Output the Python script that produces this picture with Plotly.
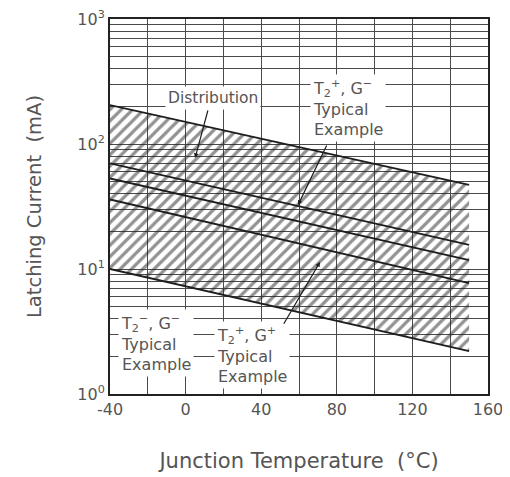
import plotly.graph_objects as go

# Data
temps = [-40, 150]
dist_upper = [205, 47]
dist_lower = [10, 2.2]
t2p_gm = [70, 15.6]   # T2+, G- typical
t2m_gm = [53, 11.8]   # T2-, G- typical
t2p_gp = [36, 7.7]    # T2+, G+ typical

x_ticks = [-40, 0, 40, 80, 120, 160]
y_tickvals = [1, 10, 100, 1000]
y_ticktext = ["10<sup>0</sup>", "10<sup>1</sup>", "10<sup>2</sup>", "10<sup>3</sup>"]

TXT = "#555555"
LINE = "#1e1e1e"
GRID = "#4a4a4a"
FONT = "DejaVu Sans, Arial, sans-serif"

fig = go.Figure()
fig.add_trace(go.Scatter(x=temps, y=dist_lower, mode="lines",
                         line=dict(color=LINE, width=1.8), showlegend=False))
fig.add_trace(go.Scatter(x=temps, y=dist_upper, mode="lines", fill="tonexty",
                         fillcolor="rgba(0,0,0,0)",
                         fillpattern=dict(shape="/", fgcolor="#262626", bgcolor="rgba(0,0,0,0)",
                                          size=8, solidity=0.4),
                         line=dict(color=LINE, width=1.8), showlegend=False))
for ys in (t2p_gm, t2m_gm, t2p_gp):
    fig.add_trace(go.Scatter(x=temps, y=ys, mode="lines",
                             line=dict(color=LINE, width=1.8), showlegend=False))

ann_font = dict(family=FONT, size=16, color=TXT)
arrow = dict(xref="x", yref="y", axref="x", ayref="y", showarrow=True, arrowhead=2,
             arrowsize=0.8, arrowwidth=1.2, arrowcolor=LINE, text="")
annotations = [
    dict(x=14.5, y=2.368, text="Distribution", showarrow=False, bgcolor="white", borderpad=2,
         font=dict(family=FONT, size=15.5, color=TXT), xanchor="center", yanchor="middle"),
    dict(x=5, y=1.888, ax=12, ay=2.28, **arrow),
    dict(x=66, y=2.29, text="T<sub>2</sub><sup>+</sup>, G<sup>−</sup><br>Typical<br>Example",
         showarrow=False, bgcolor="white", borderpad=2, font=ann_font,
         xanchor="left", yanchor="middle", align="left"),
    dict(x=59.5, y=1.512, ax=75, ay=2.0, **arrow),
    dict(x=-36, y=0.41, text="T<sub>2</sub><sup>−</sup>, G<sup>−</sup><br>Typical<br>Example",
         showarrow=False, bgcolor="white", borderpad=2, font=ann_font,
         xanchor="left", yanchor="middle", align="left"),
    dict(x=15, y=0.31, text="T<sub>2</sub><sup>+</sup>, G<sup>+</sup><br>Typical<br>Example",
         showarrow=False, bgcolor="white", borderpad=2, font=ann_font,
         xanchor="left", yanchor="middle", align="left"),
    dict(x=71.1, y=1.056, ax=51.5, ay=0.55, **arrow),
]

# the page body adds an 8px offset, so the figure is sized to compensate
fig.update_layout(
    width=502, height=469,
    margin=dict(l=102, r=22, t=11, b=83, autoexpand=False),
    paper_bgcolor="white", plot_bgcolor="white",
    font=dict(family=FONT, color=TXT, size=18),
    annotations=annotations,
    xaxis=dict(range=[-40, 160], tickvals=x_ticks, ticktext=[str(v) for v in x_ticks], ticks="",
               showline=True, linecolor="#222", automargin=False, ticklabeloverflow="allow",
               linewidth=2, mirror=True, showgrid=True, gridcolor=GRID, gridwidth=1,
               minor=dict(dtick=20, showgrid=True, gridcolor=GRID, gridwidth=1),
               zeroline=False, tickfont=dict(size=16, color=TXT),
               title=dict(text="Junction Temperature  (°C)", font=dict(size=21, color=TXT), standoff=35)),
    yaxis=dict(type="log", range=[0, 3], tickvals=y_tickvals, ticktext=y_ticktext, ticks="",
               showline=True, linecolor="#222", linewidth=2, mirror=True, automargin=False,
               ticklabeloverflow="allow",
               showgrid=True, gridcolor=GRID, gridwidth=1,
               minor=dict(dtick="D1", showgrid=True, gridcolor=GRID, gridwidth=1),
               tickfont=dict(size=16, color=TXT),
               title=dict(text="Latching Current  (mA)", font=dict(size=19.5, color=TXT), standoff=30)),
)

fig.write_html("out.html")
